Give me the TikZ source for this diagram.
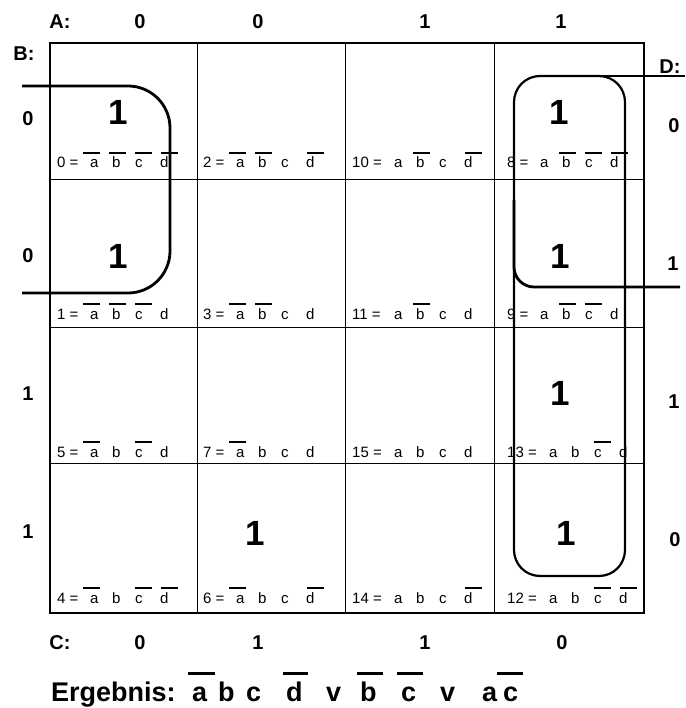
\documentclass[tikz,border=0pt]{standalone}
\usepackage{fontspec}
\setmainfont{Liberation Sans}
\newcommand\kvcell[8]{%
  \node[lab] (n#3) at (#1,#2) {#3 =};
  \node[lab] (n#3a) at ({#1+#4+33},#2) {a};
  \node[lab] (n#3b) at ({#1+#4+55},#2) {b};
  \node[lab] (n#3c) at ({#1+#4+78},#2) {c};
  \node[lab] (n#3d) at ({#1+#4+103},#2) {d};
  \ifnum#5=1 \draw[ovl] ({#1+#4+26},{#2-15}) -- ++(17,0);\fi
  \ifnum#6=1 \draw[ovl] ({#1+#4+52},{#2-15}) -- ++(17,0);\fi
  \ifnum#7=1 \draw[ovl] ({#1+#4+78},{#2-15}) -- ++(17,0);\fi
  \ifnum#8=1 \draw[ovl] ({#1+#4+104},{#2-15}) -- ++(17,0);\fi
}
\begin{document}
\begin{tikzpicture}[x=1pt,y=-1pt,
  hdr/.style={font=\fontsize{20}{24}\selectfont\bfseries, inner sep=0},
  one/.style={font=\fontsize{35}{40}\selectfont\bfseries, inner sep=0},
  lab/.style={font=\fontsize{15}{18}\selectfont, inner sep=0, anchor=base west},
  res/.style={font=\fontsize{27}{31}\selectfont\bfseries, inner sep=0, anchor=base west},
  ovl/.style={line width=2.5pt},
  rovl/.style={line width=3pt},
  grid/.style={line width=0.9pt},
  frame/.style={line width=2pt},
  grp/.style={line width=2.2pt},
  grpb/.style={line width=2.8pt}]
\useasboundingbox (0,0) rectangle (685,708);
% grid
\draw[grid] (197,43) -- (197,613) (345,43) -- (345,613) (494,43) -- (494,613);
\draw[grid] (50,179) -- (644,179) (50,327) -- (644,327) (50,463) -- (644,463);
\draw[frame] (50,43) rectangle (644,613);
% headers
\node[hdr] (A) at (60,22) {A:};
\node[hdr] (a1) at (140,22) {0};
\node[hdr] (a2) at (258,22) {0};
\node[hdr] (a3) at (425,22) {1};
\node[hdr] (a4) at (561,22) {1};
\node[hdr] (B) at (24,54) {B:};
\node[hdr] (b1) at (28,119) {0};
\node[hdr] (b2) at (28,256) {0};
\node[hdr] (b3) at (28,394) {1};
\node[hdr] (b4) at (28,532) {1};
\node[hdr] (D) at (670,67) {D:};
\node[hdr] (d1) at (674,126) {0};
\node[hdr] (d2) at (673,264) {1};
\node[hdr] (d3) at (674,402) {1};
\node[hdr] (d4) at (675,540) {0};
\node[hdr] (C) at (60,643) {C:};
\node[hdr] (c1) at (140,643) {0};
\node[hdr] (c2) at (258,643) {1};
\node[hdr] (c3) at (425,643) {1};
\node[hdr] (c4) at (562,643) {0};
% ones
\node[one] (o0) at (118,112) {1};
\node[one] (o1) at (118,256) {1};
\node[one] (o8) at (559,112) {1};
\node[one] (o9) at (560,256) {1};
\node[one] (o13) at (560,393) {1};
\node[one] (o12) at (566,533) {1};
\node[one] (o6) at (255,533) {1};
% cell labels
\kvcell{57}{168}{0}{0}{1}{1}{1}{1}
\kvcell{203}{168}{2}{0}{1}{1}{0}{1}
\kvcell{352}{168}{10}{9}{0}{1}{0}{1}
\kvcell{507}{168}{8}{0}{0}{1}{1}{1}
\kvcell{57}{319}{1}{0}{1}{1}{1}{0}
\kvcell{203}{319}{3}{0}{1}{1}{0}{0}
\kvcell{352}{319}{11}{9}{0}{1}{0}{0}
\kvcell{507}{319}{9}{0}{0}{1}{1}{0}
\kvcell{57}{457}{5}{0}{1}{0}{1}{0}
\kvcell{203}{457}{7}{0}{1}{0}{0}{0}
\kvcell{352}{457}{15}{9}{0}{0}{0}{0}
\kvcell{507}{457}{13}{9}{0}{0}{1}{0}
\kvcell{57}{603}{4}{0}{1}{0}{1}{1}
\kvcell{203}{603}{6}{0}{1}{0}{0}{1}
\kvcell{352}{603}{14}{9}{0}{0}{0}{1}
\kvcell{507}{603}{12}{9}{0}{0}{1}{1}
% groups
\draw[grpb, rounded corners=42pt] (22,86) -- (170,86) -- (170,293) -- (22,293);
\draw[grp, rounded corners=26pt] (514,76) rectangle (625,576);
\draw[grpb] (592,76) -- (685,76);
\draw[grpb, rounded corners=20pt] (514,200) -- (514,287) -- (680,287);
% result
\node[res] (erg) at (51,701) {Ergebnis:};
\node[res] (r1) at (192,701) {a};
\node[res] (r2) at (218,701) {b};
\node[res] (r3) at (246,701) {c};
\node[res] (r4) at (286,701) {d};
\node[res] (r5) at (326,701) {v};
\node[res] (r6) at (360,701) {b};
\node[res] (r7) at (401,701) {c};
\node[res] (r8) at (440,701) {v};
\node[res] (r9) at (482,701) {a};
\node[res] (r10) at (503,701) {c};
\draw[rovl] (188,673) -- (215,673);
\draw[rovl] (283,673) -- (308,673);
\draw[rovl] (357,673) -- (383,673);
\draw[rovl] (397,673) -- (423,673);
\draw[rovl] (497,673) -- (523,673);
\end{tikzpicture}
\end{document}
